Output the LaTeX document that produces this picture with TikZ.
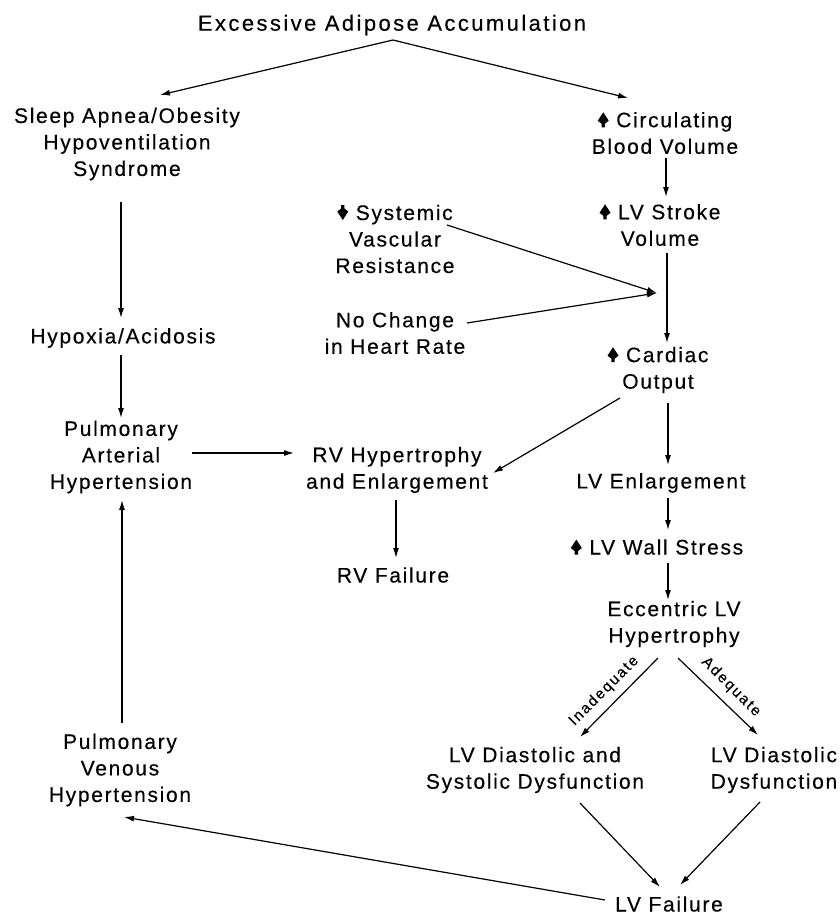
\documentclass[tikz,border=0pt]{standalone}
\usepackage{fontspec}
\setmainfont{Liberation Sans}[LetterSpace=8,FakeBold=0.3]
\usetikzlibrary{arrows.meta,calc}
\newcommand\uparw{\tikz[baseline=0pt,x=1pt,y=1pt]\fill (3.8,0) -- (3.8,3.5) -- (0,6.5) -- (5.5,15) -- (11,6.5) -- (7.2,3.5) -- (7.2,0) -- cycle;}
\newcommand\dnarw{\tikz[baseline=0pt,x=1pt,y=1pt]\fill (3.8,15) -- (3.8,11.5) -- (0,8.5) -- (5.5,0) -- (11,8.5) -- (7.2,11.5) -- (7.2,15) -- cycle;}
\tikzset{
  lbl/.style={align=center, inner sep=0pt, font=\fontsize{21}{26.5}\selectfont},
  ttl/.style={inner sep=0pt, font=\fontsize{22}{26}\selectfont\addfontfeature{LetterSpace=11}},
  cond/.style={inner sep=0pt, font=\fontsize{15}{18}\selectfont\addfontfeature{LetterSpace=12}},
  arr/.style={-{Latex[length=10pt,width=6pt]}, line width=1.2pt}
}
\begin{document}
\begin{tikzpicture}[x=1pt,y=-1pt]
\useasboundingbox (0,0) rectangle (839,916);
\node[ttl] (title) at (392,25) {Excessive Adipose Accumulation};
\node[lbl] (sleep) at (127,144) {Sleep Apnea/Obesity\\Hypoventilation\\Syndrome};
\node[lbl] (circ) at (665,133) {\uparw\ Circulating\\Blood Volume};
\node[lbl] (svr) at (395,239) {\dnarw\ Systemic\\Vascular\\Resistance};
\node[lbl] (stroke) at (660,225) {\uparw\ LV Stroke\\Volume};
\node[lbl] (nochange) at (395,333) {No Change\\in Heart Rate};
\node[lbl] (hyp) at (123,338) {Hypoxia/Acidosis};
\node[lbl] (cardiac) at (658,370) {\uparw\ Cardiac\\Output};
\node[lbl] (pah) at (121,457) {Pulmonary\\Arterial\\Hypertension};
\node[lbl] (rvh) at (397,470) {RV Hypertrophy\\and Enlargement};
\node[lbl] (lvenl) at (661,483) {LV Enlargement};
\node[lbl] (wall) at (657,547) {\uparw\ LV Wall Stress};
\node[lbl] (rvf) at (393,575) {RV Failure};
\node[lbl] (ecc) at (674,624) {Eccentric LV\\Hypertrophy};
\node[lbl] (lvdsd) at (535,770) {LV Diastolic and\\Systolic Dysfunction};
\node[lbl] (lvdd) at (774,770) {LV Diastolic\\Dysfunction};
\node[lbl] (pvh) at (120,770) {Pulmonary\\Venous\\Hypertension};
\node[lbl] (lvf) at (669,904) {LV Failure};
\coordinate (j) at (657,293);

\draw[arr] ($(title)+(1,15)$) -- ($(sleep)+(33,-49)$);
\draw[arr] ($(title)+(1,15)$) -- ($(circ)+(-37,-35)$);
\draw[arr] ($(sleep)+(-6,58)$) -- ($(hyp)+(-2,-20)$);
\draw[arr] ($(hyp)+(-2,17)$) -- ($(pah)+(0,-39)$);
\draw[arr] ($(pah)+(71,-4)$) -- ($(rvh)+(-103,-17)$);
\draw[arr] ($(rvh)+(-1,30)$) -- ($(rvf)+(3,-17)$);
\draw[arr] ($(circ)+(1,25)$) -- ($(stroke)+(6,-28)$);
\draw[arr] ($(stroke)+(7,28)$) -- ($(cardiac)+(9,-27)$);
\draw[arr] ($(svr)+(52,-14)$) -- (j);
\draw[arr] ($(nochange)+(72,-10)$) -- (j);
\draw[arr] ($(cardiac)+(10,33)$) -- ($(lvenl)+(7,-18)$);
\draw[arr] ($(cardiac)+(-38,28)$) -- ($(rvh)+(96,3)$);
\draw[arr] ($(lvenl)+(7,15)$) -- ($(wall)+(11,-17)$);
\draw[arr] ($(wall)+(11,16)$) -- ($(ecc)+(-6,-24)$);
\draw[arr] ($(ecc)+(-16,34)$) -- ($(lvdsd)+(45,-33)$);
\draw[arr] ($(ecc)+(4,34)$) -- ($(lvdd)+(-16,-35)$);
\draw[arr] ($(lvdsd)+(45,33)$) -- ($(lvf)+(-9,-17)$);
\draw[arr] ($(lvdd)+(-14,32)$) -- ($(lvf)+(11,-19)$);
\draw[arr] ($(lvf)+(-64,-4)$) -- ($(pvh)+(4,47)$);
\draw[arr] ($(pvh)+(2,-47)$) -- ($(pah)+(1,43)$);

\node[cond, rotate=45] (inad) at (604,691) {Inadequate};
\node[cond, rotate=-45] (adeq) at (731,687) {Adequate};
\end{tikzpicture}
\end{document}
